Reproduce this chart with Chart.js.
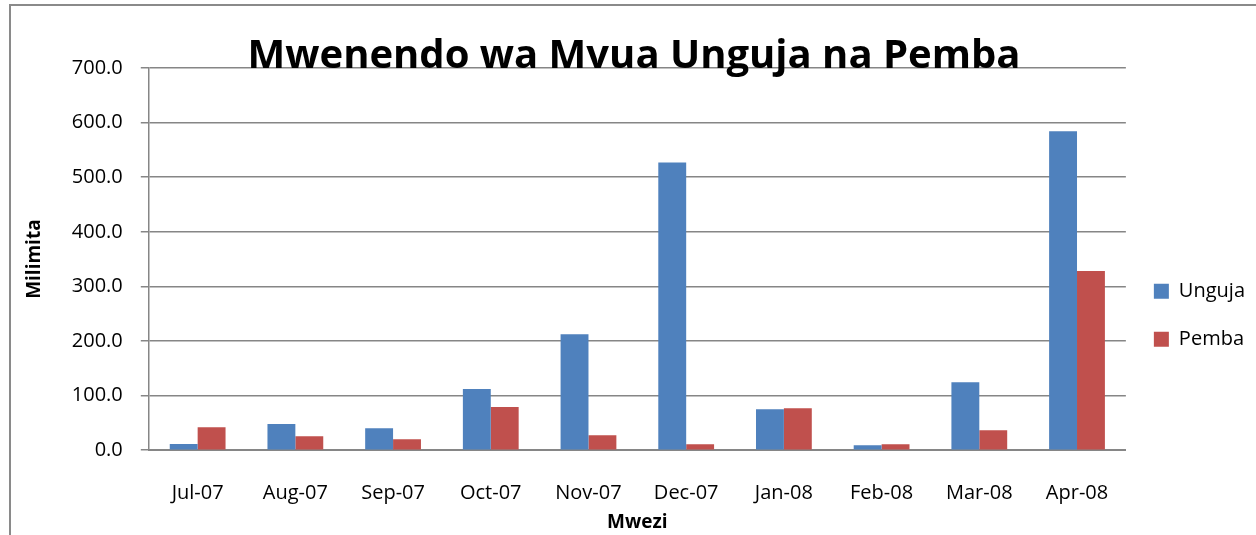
<!DOCTYPE html>
<html>
<head>
<meta charset="utf-8">
<script src="https://cdn.jsdelivr.net/npm/chart.js@4/dist/chart.umd.min.js"></script>
<style>
  html, body { margin: 0; padding: 0; background: #fff; overflow: hidden; }
  #frame { position: absolute; left: 9px; top: 4px; width: 1400px; height: 700px; border: 2px solid #8a8a8a; box-sizing: border-box; }
  #wrap { position: absolute; left: 0; top: 0; width: 1256px; height: 535px; }
</style>
</head>
<body>
<div id="frame"></div>
<div id="wrap"><canvas id="rainChart"></canvas></div>
<script>
// Mvua kwa mwezi (milimita)
const months = ['Jul-07', 'Aug-07', 'Sep-07', 'Oct-07', 'Nov-07', 'Dec-07', 'Jan-08', 'Feb-08', 'Mar-08', 'Apr-08'];
const unguja = [11.5, 48.0, 40.0, 112.0, 212.5, 527.0, 75.0, 9.0, 124.5, 584.0];
const pemba = [42.0, 25.5, 20.0, 79.0, 27.5, 11.0, 77.0, 11.0, 36.5, 328.0];
const yTicks = [0, 100, 200, 300, 400, 500, 600, 700];

const chartTitle = 'Mwenendo wa Mvua Unguja na Pemba';
const FONT = "'Open Sans', 'Noto Sans', sans-serif";

Chart.defaults.font.family = FONT;
Chart.defaults.color = '#000';

// title drawn on top so it overlaps the top grid line like the original
const titleOnTop = {
  id: 'titleOnTop',
  afterDraw(chart) {
    const ctx = chart.ctx;
    ctx.save();
    ctx.font = "bold 40px " + FONT;
    ctx.fillStyle = '#000';
    ctx.textAlign = 'center';
    ctx.textBaseline = 'middle';
    ctx.fillText(chartTitle, 634, 57);
    ctx.restore();
  }
};

const ctx = document.getElementById('rainChart').getContext('2d');
new Chart(ctx, {
  type: 'bar',
  data: {
    labels: months,
    datasets: [
      { label: 'Unguja', data: unguja, backgroundColor: '#4f81bd' },
      { label: 'Pemba', data: pemba, backgroundColor: '#c0504d' }
    ]
  },
  options: {
    responsive: true, maintainAspectRatio: false, animation: false,
    datasets: { bar: { barPercentage: 1, categoryPercentage: 0.571 } },
    layout: { padding: { top: 68, left: 23, right: 1, bottom: 1 } },
    plugins: {
      title: { display: false },
      tooltip: { enabled: false },
      legend: {
        position: 'right', align: 'center',
        title: { display: true, text: '', padding: 7 },
        labels: { boxWidth: 15, boxHeight: 15, padding: 28, font: { size: 20 }, color: '#000' }
      }
    },
    scales: {
      x: {
        grid: { display: false },
        border: { color: '#868686', width: 2 },
        ticks: { font: { size: 20 }, color: '#000', padding: 23, maxRotation: 0 },
        title: { display: true, text: 'Mwezi', font: { size: 19, weight: 'bold' }, padding: { top: -17, bottom: 0 } }
      },
      y: {
        min: 0, max: 700,
        afterBuildTicks: (axis) => { axis.ticks = yTicks.map(v => ({ value: v })); },
        grid: { color: '#868686', lineWidth: 1.5, tickLength: 8, tickColor: '#868686' },
        border: { color: '#868686', width: 1.5 },
        ticks: { font: { size: 20 }, color: '#000', padding: 18, callback: v => v.toFixed(1) },
        title: { display: true, text: 'Milimita', font: { size: 19, weight: 'bold' }, padding: { top: 0, bottom: 8 } }
      }
    }
  },
  plugins: [titleOnTop]
});
</script>
</body>
</html>
